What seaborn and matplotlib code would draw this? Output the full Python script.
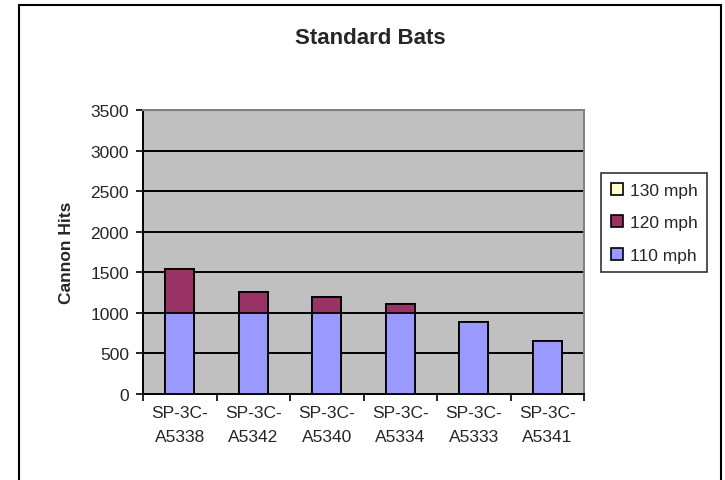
import numpy as np
import pandas as pd
import matplotlib
matplotlib.use("Agg")
import matplotlib.pyplot as plt
from matplotlib.patches import Patch, Rectangle
import seaborn as sns

# Data
bats = ["SP-3C-\nA5338", "SP-3C-\nA5342", "SP-3C-\nA5340",
        "SP-3C-\nA5334", "SP-3C-\nA5333", "SP-3C-\nA5341"]
hits_110 = [1000, 1000, 1000, 1000, 890, 650]
hits_120 = [540, 260, 200, 110, 0, 0]
hits_130 = [0, 0, 0, 0, 0, 0]

series_names = ["110 mph", "120 mph", "130 mph"]
series_colors = ["#9999FF", "#993366", "#FFFFCC"]
y_ticks = [0, 500, 1000, 1500, 2000, 2500, 3000, 3500]

sns.set_theme(style="white")
plt.rcParams["font.family"] = ["Liberation Sans", "DejaVu Sans"]

W, H = 725, 481
fig = plt.figure(figsize=(W / 100, H / 100), dpi=100)
fig.patch.set_facecolor("white")

ax = fig.add_axes([143 / W, 1 - 395 / H, (584 - 143) / W, (395 - 111) / H])
ax.set_facecolor("#C0C0C0")

# Stacked bars: draw cumulative totals from the top series down
df = pd.DataFrame({"bat": bats, "110": hits_110, "120": hits_120, "130": hits_130})
df["c110"] = df["110"]
df["c120"] = df["c110"] + df["120"]
df["c130"] = df["c120"] + df["130"]
for col, color in [("c130", series_colors[2]), ("c120", series_colors[1]), ("c110", series_colors[0])]:
    sns.barplot(data=df, x="bat", y=col, color=color, width=0.4,
                edgecolor="black", linewidth=1.3, saturation=1, ax=ax, zorder=3)

ax.set_ylim(0, 3500)
ax.set_xlim(-0.5, len(bats) - 0.5)
ax.set_yticks(y_ticks)
ax.set_yticklabels([str(v) for v in y_ticks], fontsize=12.5)
for v in y_ticks[1:]:
    ax.axhline(v, color="black", linewidth=1.4, zorder=1)

# Category labels centered, tick marks between categories
ax.set_xticks(np.arange(-0.5, len(bats), 1.0))
ax.set_xticklabels([])
ax.set_xticks(np.arange(len(bats)), minor=True)
ax.set_xticklabels(bats, minor=True, fontsize=12.5, linespacing=1.75)
ax.tick_params(axis="x", which="major", direction="out", length=5, width=1.2, color="black", bottom=True)
ax.tick_params(axis="x", which="minor", length=0, pad=8)
ax.tick_params(axis="y", direction="out", length=5, width=1.2, color="black", left=True, pad=5)

ax.set_xlabel("")
ax.set_ylabel("Cannon Hits", fontsize=12.5, fontweight="bold", labelpad=12)

for side in ["left", "bottom"]:
    ax.spines[side].set_color("black")
    ax.spines[side].set_linewidth(1.4)
for side in ["top", "right"]:
    ax.spines[side].set_color("#808080")
    ax.spines[side].set_linewidth(1.4)

fig.text(370 / W, 1 - 38 / H, "Standard Bats", fontsize=16, fontweight="bold",
         ha="center", va="center")

handles = [Patch(facecolor=series_colors[i], edgecolor="black", linewidth=1.2, label=series_names[i])
           for i in (2, 1, 0)]
leg = fig.legend(handles=handles, loc="upper left", bbox_to_anchor=(601 / W, 1 - 174 / H),
                 fontsize=12.5, frameon=True, fancybox=False, handlelength=0.7, handleheight=0.7,
                 handletextpad=0.4, labelspacing=1.0, borderpad=0.55, borderaxespad=0)
leg.get_frame().set_edgecolor("black")
leg.get_frame().set_linewidth(1.2)

# Outer chart frame
fig.patches.append(Rectangle((19 / W, -0.05), (721 - 19) / W, 1.05 - 6 / H,
                             transform=fig.transFigure, fill=False, edgecolor="black",
                             linewidth=1.5))

fig.savefig("out.png", dpi=100)
